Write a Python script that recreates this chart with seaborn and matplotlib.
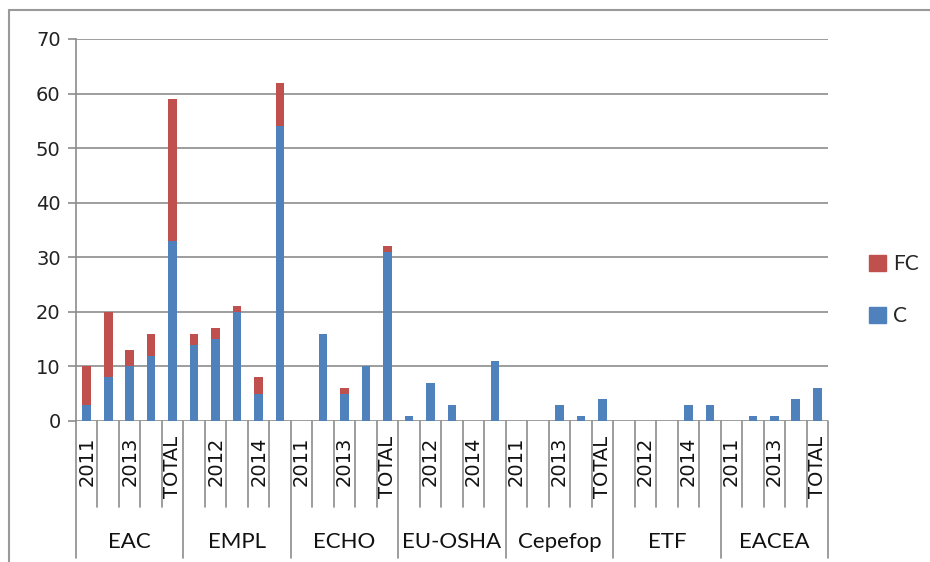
import numpy as np
import pandas as pd
import matplotlib
matplotlib.use('Agg')
import matplotlib.pyplot as plt
import matplotlib.transforms as mtransforms
from matplotlib.patches import Patch
from matplotlib.lines import Line2D
import seaborn as sns

# data
groups = ['EAC', 'EMPL', 'ECHO', 'EU-OSHA', 'Cepefop', 'ETF', 'EACEA']
years = ['2011', '2012', '2013', '2014', 'TOTAL']
c_vals = [3, 8, 10, 12, 33,
          14, 15, 20, 5, 54,
          0, 16, 5, 10, 31,
          1, 7, 3, 0, 11,
          0, 0, 3, 1, 4,
          0, 0, 0, 3, 3,
          0, 1, 1, 4, 6]
fc_vals = [7, 12, 3, 4, 26,
           2, 2, 1, 3, 8,
           0, 0, 1, 0, 1,
           0, 0, 0, 0, 0,
           0, 0, 0, 0, 0,
           0, 0, 0, 0, 0,
           0, 0, 0, 0, 0]

df = pd.DataFrame({
    'slot': range(len(c_vals)),
    'group': np.repeat(groups, len(years)),
    'year': years * len(groups),
    'C': c_vals,
    'FC': fc_vals,
})
df['total'] = df['C'] + df['FC']

red = '#C0504D'
blue = '#4F81BD'
grid_col = '#8C8C8C'

sns.set_style('white')
plt.rcParams['font.family'] = ['DejaVu Sans']

W, H = 930, 562
fig = plt.figure(figsize=(W / 100, H / 100), dpi=100)
ax_l, ax_r, ax_t, ax_b = 76, 828, 39, 421
ax = fig.add_axes([ax_l / W, 1 - ax_b / H, (ax_r - ax_l) / W, (ax_b - ax_t) / H])
ax_h = ax_b - ax_t

# stacked bars: full height in red, C part in blue on top
sns.barplot(data=df, x='slot', y='total', color=red, width=0.4, saturation=1,
            errorbar=None, linewidth=0, ax=ax)
sns.barplot(data=df, x='slot', y='C', color=blue, width=0.4, saturation=1,
            errorbar=None, linewidth=0, ax=ax)

n = len(df)
ax.set_xlim(-0.5, n - 0.5)
ax.set_ylim(0, 70)
ax.set_yticks(range(0, 71, 10))
ax.yaxis.grid(True, color=grid_col, linewidth=1.2)
ax.set_axisbelow(True)
for s in ['top', 'right', 'bottom']:
    ax.spines[s].set_visible(False)
ax.spines['left'].set_color(grid_col)
ax.spines['left'].set_linewidth(1.2)
ax.tick_params(axis='y', length=6, width=1.2, color=grid_col, pad=5,
               labelsize=14, labelcolor='#222222', left=True)

# every other category label, as in the original
ax.set_xticks(range(0, n, 2))
ax.set_xticklabels([df['year'][i] for i in range(0, n, 2)], rotation=90,
                   fontsize=14, color='#111111')
ax.tick_params(axis='x', length=0, pad=11)
ax.set_xlabel('')
ax.set_ylabel('')

# table lines under the axis
trans = mtransforms.blended_transform_factory(ax.transData, ax.transAxes)
for i in range(n + 1):
    x = i - 0.5
    depth = 137 if i % len(years) == 0 else 86
    ax.plot([x, x], [0, -depth / ax_h], transform=trans, clip_on=False,
            color=grid_col, linewidth=1.2)

for g, name in enumerate(groups):
    ax.text(g * len(years) + 2, -121 / ax_h, name, transform=trans,
            ha='center', va='center', fontsize=16, family=['Lato', 'DejaVu Sans'],
            color='#111111')

# legend
handles = [Patch(color=red, label='FC'), Patch(color=blue, label='C')]
fig.legend(handles=handles, loc='center left', frameon=False,
           bbox_to_anchor=(869 / W, 1 - 290 / H),
           handlelength=0.8, handleheight=0.8, handletextpad=0.35,
           labelspacing=1.55, borderpad=0, borderaxespad=0,
           prop={'family': ['Lato', 'DejaVu Sans'], 'size': 15})

# outer chart frame (left and top edges visible)
fig.add_artist(Line2D([9 / W, 9 / W], [0, 1 - 10 / H], color='#999999', linewidth=1.5))
fig.add_artist(Line2D([9 / W, 1], [1 - 10 / H, 1 - 10 / H], color='#999999', linewidth=1.5))

fig.savefig('out.png', dpi=100)
